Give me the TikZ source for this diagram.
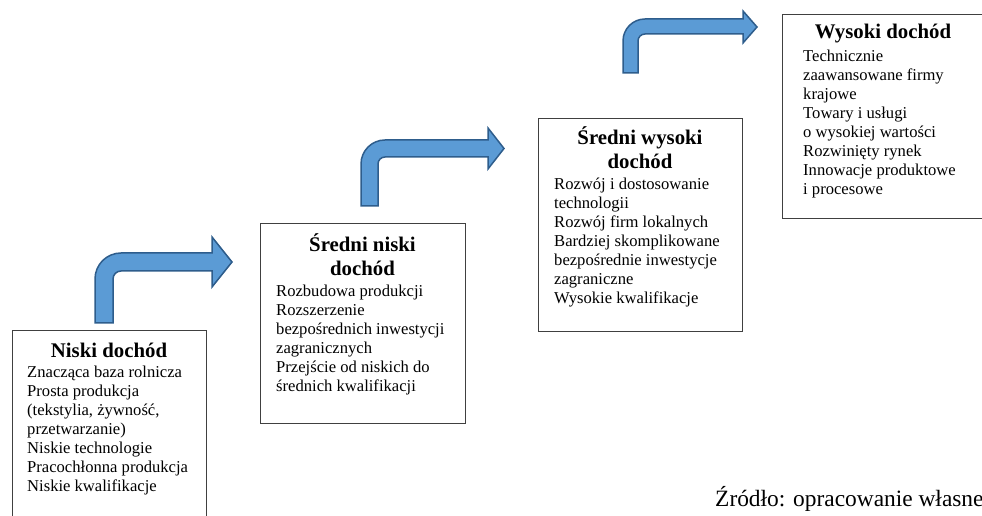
\documentclass[tikz,border=0pt]{standalone}
\usepackage{fontspec}
\setmainfont{Liberation Serif}
\usetikzlibrary{positioning,calc}
\definecolor{arrowfill}{HTML}{5B9BD5}
\definecolor{arrowline}{HTML}{2E5D8C}
\definecolor{boxline}{HTML}{404040}
\tikzset{
	stagebox/.style={draw=boxline, line width=0.9pt, anchor=north west, inner sep=0},
	stagetitle/.style={font=\bfseries\fontsize{20.8}{24}\selectfont, align=center, anchor=base, inner sep=0},
	stagetext/.style={font=\fontsize{16.6}{19}\selectfont, align=left, anchor=base west, inner sep=0},
	stagearrow/.style={fill=arrowfill, draw=arrowline, line width=1.5pt, line join=miter},
	sourcetext/.style={font=\fontsize{23.4}{27}\selectfont, anchor=base west, inner sep=0}
}

\begin{document}
\begin{tikzpicture}[x=1pt,y=1pt]
				\useasboundingbox (0,0) rectangle (982,516);
				\clip (0,0) rectangle (982,516);
				
				%%%% niski (base = last line)
				\node[stagebox, minimum width=194pt, minimum height=200pt] (low) at (12,186) {};
				\node[stagetitle] (lowtitle) at (109,158) {Niski dochód};
				\node[stagetext] (lowtext) at (27,24) {Znacząca baza rolnicza\\Prosta produkcja\\(tekstylia, żywność,\\przetwarzanie)\\Niskie technologie\\Pracochłonna produkcja\\Niskie kwalifikacje};
				
				%%%% sredni niski
				\node[stagebox, minimum width=205pt, minimum height=200pt] (lmid) at (260,293) {};
				\node[stagetitle] (lmidtitle) at (362.5,240) {Średni niski\\dochód};
				\node[stagetext] (lmidtext) at (276,124) {Rozbudowa produkcji\\Rozszerzenie\\bezpośrednich inwestycji\\zagranicznych\\Przejście od niskich do\\średnich kwalifikacji};
				
				%%%% sredni wysoki
				\node[stagebox, minimum width=204pt, minimum height=213pt] (umid) at (538,398) {};
				\node[stagetitle] (umidtitle) at (640,347) {Średni wysoki\\dochód};
				\node[stagetext] (umidtext) at (554,212) {Rozwój i dostosowanie\\technologii\\Rozwój firm lokalnych\\Bardziej skomplikowane\\bezpośrednie inwestycje\\zagraniczne\\Wysokie kwalifikacje};
				
				%%%% wysoki
				\node[stagebox, minimum width=202pt, minimum height=204pt] (high) at (782,502) {};
				\node[stagetitle] (hightitle) at (883,477) {Wysoki dochód};
				\node[stagetext] (hightext) at (803,321) {Technicznie\\zaawansowane firmy\\krajowe\\Towary i usługi\\o wysokiej wartości\\Rozwinięty rynek\\Innowacje produktowe\\i procesowe};
				
				%%%% arrows
				\draw[stagearrow] (95,193) -- (95,237) arc[start angle=180, end angle=90, radius=26pt]
				-- (212,263) -- (212,279) -- (232,254) -- (212,229) -- (212,245) -- (121,245)
				arc[start angle=90, end angle=180, radius=8pt] -- (113,193) -- cycle;
				
				\draw[stagearrow] (361,310) -- (361,352) arc[start angle=180, end angle=90, radius=24pt]
				-- (488,376) -- (488,388) -- (504,367.5) -- (488,347) -- (488,359) -- (385,359)
				arc[start angle=90, end angle=180, radius=7pt] -- (378,310) -- cycle;
				
				\draw[stagearrow] (623,443) -- (623,475) arc[start angle=180, end angle=90, radius=22pt]
				-- (743,497) -- (743,505) -- (757,489) -- (743,473) -- (743,482) -- (645,482)
				arc[start angle=90, end angle=180, radius=7pt] -- (638,443) -- cycle;
				
				\node[sourcetext] (source) at (715,9) {Źródło: opracowanie własne};
\end{tikzpicture}
\end{document}
